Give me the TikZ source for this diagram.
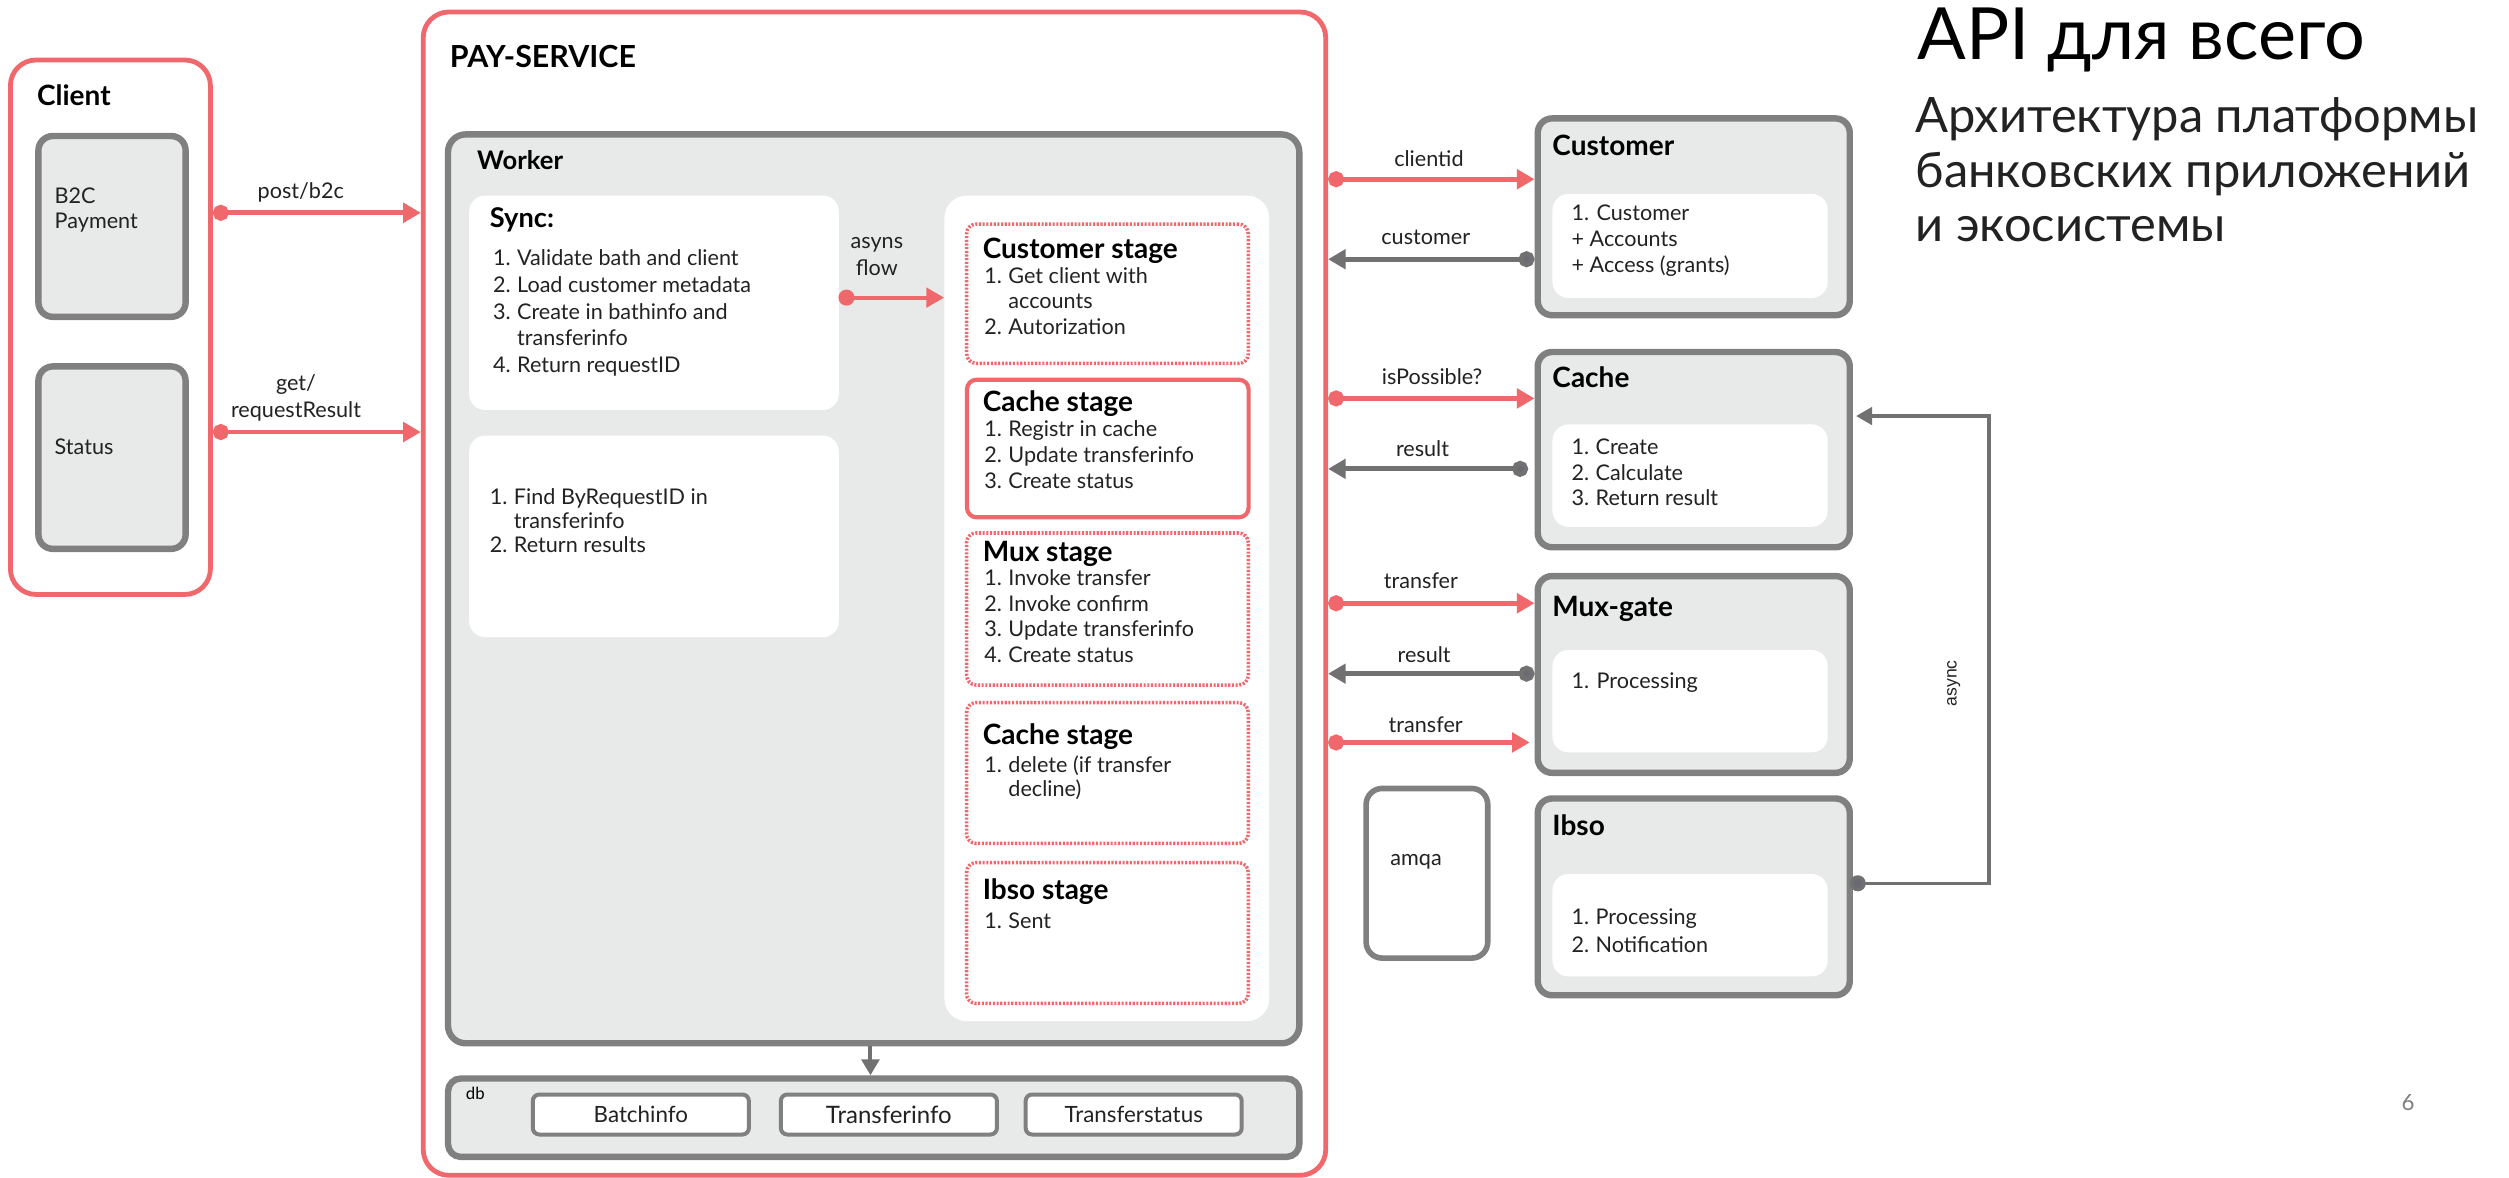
\documentclass[tikz,border=0pt]{standalone}
\usepackage{fontspec}
\setmainfont{Lato}
\newfontfamily\arialf{Liberation Sans}
\usetikzlibrary{arrows.meta,calc}
\definecolor{rd}{HTML}{F0676C}
\definecolor{gb}{HTML}{808080}
\definecolor{gf}{HTML}{E8E9E9}
\definecolor{ga}{HTML}{717171}
\definecolor{gd}{HTML}{6A6A72}
\definecolor{tx}{HTML}{222222}
\newcommand{\fs}[2]{\fontsize{#1}{#2}\selectfont}
\newcommand{\lst}[1]{\begin{tabular}[t]{@{}l@{\hspace{4pt}}l@{}}#1\end{tabular}}
\tikzset{
  sz/.style 2 args={minimum width=#1pt, minimum height=#2pt, inner sep=0pt, anchor=north west},
  redframe/.style={draw=rd, line width=3pt, rounded corners=16pt, fill=white},
  graybox/.style={draw=gb, line width=4pt, rounded corners=9pt, fill=gf},
  whitebox/.style={fill=white, rounded corners=10pt},
  stagedot/.style={draw=rd, line width=2.2pt, dash pattern=on 1.3pt off 1pt, rounded corners=6pt, fill=white},
  stagesolid/.style={draw=rd, line width=2.6pt, rounded corners=6pt, fill=white},
  dbitem/.style={draw=gb, line width=2.5pt, rounded corners=4pt, fill=white, font=\fs{14}{16}, text=tx, minimum width=135pt, minimum height=25pt},
  ttl/.style={anchor=base west, inner sep=0pt, font=\bfseries\fs{17.5}{20}, text=black},
  itm/.style={anchor=base west, inner sep=0pt, font=\fs{13.5}{16}, text=tx},
  lbl/.style={anchor=base, inner sep=0pt, font=\fs{13.5}{17}, text=tx},
  rarr/.style={draw=rd, line width=3pt, {Circle[length=10pt]}-{Triangle[length=11pt,width=12pt]}},
  garr/.style={draw=ga, line width=3pt, {Circle[length=10pt, fill=gd]}-{Triangle[length=11pt,width=12pt]}},
}
\begin{document}
\begin{tikzpicture}[x=1pt,y=-1pt]
\useasboundingbox[fill=white] (0,0) rectangle (1568,736);

% ---------- Client ----------
\node[redframe, sz={125}{334}] (client) at (5,36) {};
\node[ttl] (clientL) at (23,66) {Client};
\node[graybox, sz={92}{113}] (b2c) at (22,83) {};
\node[itm] (b2cL) at (34,127) {\fs{13.5}{16}\lst{B2C\\Payment}};
\node[graybox, sz={92}{114}] (status) at (22,227) {};
\node[itm] (statusL) at (34,284) {Status};

% ---------- PAY-SERVICE ----------
\node[redframe, sz={564}{727}] (ps) at (263,6) {};
\node[ttl, font=\bfseries\fs{19}{22}] (psL) at (281,42) {PAY-SERVICE};

\node[graybox, sz={532}{568}, rounded corners=11pt] (worker) at (278,82) {};
\node[ttl, font=\bfseries\fs{16}{18}] (workerL) at (298,106) {Worker};

\node[whitebox, sz={231}{134}] (sync) at (293,122) {};
\node[ttl, font=\bfseries\fs{17}{20}] (syncL) at (306,142) {Sync:};
\node[itm] (syncT) at (308,166) {\fs{13.5}{16.7}\lst{1. & Validate bath and client\\ 2. & Load customer metadata\\ 3. & Create in bathinfo and\\ & transferinfo\\ 4. & Return requestID}};

\node[whitebox, sz={231}{126}] (find) at (293,272) {};
\node[itm] (findT) at (306,315) {\fs{13.5}{15}\lst{1. & Find ByRequestID in\\ & transferinfo\\ 2. & Return results}};

\node[whitebox, sz={203}{516}, rounded corners=14pt] (stages) at (590,122) {};

\node[stagedot, sz={176}{87}] (st1) at (603,139) {};
\node[ttl] (st1L) at (614,161.5) {Customer stage};
\node[itm] (st1T) at (615,177) {\lst{1. & Get client with\\ & accounts\\ 2. & Autorization}};

\node[stagesolid, sz={176}{86}] (st2) at (603,236) {};
\node[ttl] (st2L) at (614,257) {Cache stage};
\node[itm] (st2T) at (615,273) {\lst{1. & Registr in cache\\ 2. & Update transferinfo\\ 3. & Create status}};

\node[stagedot, sz={176}{95}] (st3) at (603,332) {};
\node[ttl] (st3L) at (614,351) {Mux stage};
\node[itm] (st3T) at (615,366) {\lst{1. & Invoke transfer\\ 2. & Invoke confirm\\ 3. & Update transferinfo\\ 4. & Create status}};

\node[stagedot, sz={176}{88}] (st4) at (603,438) {};
\node[ttl] (st4L) at (614,465) {Cache stage};
\node[itm] (st4T) at (615,483) {\fs{13.5}{15}\lst{1. & delete (if transfer\\ & decline)}};

\node[stagedot, sz={176}{88}] (st5) at (603,538) {};
\node[ttl] (st5L) at (614,562) {Ibso stage};
\node[itm] (st5T) at (615,580) {\lst{1. & Sent}};

\node[lbl, align=center] (asynsL) at (548,172) {asyns\\flow};
\coordinate (asynsS) at (524,186);
\draw[rarr, line width=2.5pt] (asynsS) -- (stages.west |- asynsS);

% ---------- db ----------
\node[graybox, sz={532}{49}, rounded corners=8pt] (db) at (278,672) {};
\node[anchor=base west, inner sep=0pt, font=\fs{10.5}{12}, text=black] (dbL) at (291,687) {db};
\node[dbitem] (bi) at (400.5,696.5) {Batchinfo\hspace{18pt}};
\node[dbitem, font=\fs{15}{17}] (ti) at (555.5,696.5) {Transferinfo\hspace{10pt}};
\node[dbitem] (ts) at (708.5,696.5) {Transferstatus\hspace{20pt}};
\draw[draw=ga, line width=2.5pt, -{Triangle[length=10pt,width=11pt]}] (worker.south -| 544,0) -- (db.north -| 544,0);

% ---------- Client arrows ----------
\coordinate (y1) at (0,133);
\coordinate (y2) at (0,270);
\draw[rarr] (client.east |- y1) -- (ps.west |- y1);
\node[lbl] (postL) at (188,124) {post/b2c};
\draw[rarr] (client.east |- y2) -- (ps.west |- y2);
\node[lbl, align=center] (getL) at (185,261) {get/\\requestResult};

% ---------- Right side services ----------
\node[graybox, sz={195}{123}] (cust) at (959,72) {};
\node[ttl] (custL) at (970,97) {Customer};
\node[whitebox, sz={172}{65}] (custW) at (970,121) {};
\node[itm] (custT) at (982,138) {\lst{1. Customer\\ + Accounts\\ + Access (grants)}};

\node[graybox, sz={195}{122}] (cache) at (959,218) {};
\node[ttl] (cacheL) at (970,242) {Cache};
\node[whitebox, sz={172}{64}] (cacheW) at (970,265) {};
\node[itm] (cacheT) at (982,284) {\lst{1. & Create\\ 2. & Calculate\\ 3. & Return result}};

\node[graybox, sz={195}{123}] (mux) at (959,358) {};
\node[ttl] (muxL) at (970,385) {Mux-gate};
\node[whitebox, sz={172}{64}] (muxW) at (970,406) {};
\node[itm] (muxT) at (982,430) {1. Processing};

\node[graybox, sz={195}{123}] (ibso) at (959,497) {};
\node[ttl] (ibsoL) at (970,522) {Ibso};
\node[whitebox, sz={172}{64}] (ibsoW) at (970,546) {};
\node[itm] (ibsoT) at (982,578) {\fs{13.5}{17}\lst{1. & Processing\\ 2. & Notification}};

\node[draw=gb, line width=3.5pt, rounded corners=10pt, fill=white, sz={76}{106}] (amqa) at (852,491) {};
\node[lbl] (amqaL) at (885,541) {amqa};

% arrows between PAY-SERVICE and services
\coordinate (a1) at (0,112);
\coordinate (a2) at (0,162);
\coordinate (a3) at (0,249);
\coordinate (a4) at (0,293);
\coordinate (a5) at (0,377);
\coordinate (a6) at (0,421);
\coordinate (a7) at (0,464);
\draw[rarr] (ps.east |- a1) -- (cust.west |- a1);
\node[lbl] (l1) at (893,104) {clientid};
\draw[garr] (cust.west |- a2) -- (ps.east |- a2);
\node[lbl] (l2) at (891,153) {customer};
\draw[rarr] (ps.east |- a3) -- (cache.west |- a3);
\node[lbl] (l3) at (895,240) {isPossible?};
\draw[garr] ([xshift=-4pt]cache.west |- a4) -- (ps.east |- a4);
\node[lbl] (l4) at (889,285) {result};
\draw[rarr] (ps.east |- a5) -- (mux.west |- a5);
\node[lbl] (l5) at (888,368) {transfer};
\draw[garr] (mux.west |- a6) -- (ps.east |- a6);
\node[lbl] (l6) at (890,414) {result};
\draw[rarr] (ps.east |- a7) -- ([xshift=-3pt]mux.west |- a7);
\node[lbl] (l7) at (891,458) {transfer};

% async loop
\coordinate (asyncS) at (1156,552);
\coordinate (asyncE) at (1160,260);
\coordinate (asyncX) at (1243,0);
\draw[draw=ga, line width=2pt, {Circle[length=10pt, fill=gd]}-{Triangle[length=10pt,width=11pt]}]
  (asyncS) -- (asyncX |- asyncS) -- (asyncX |- asyncE) -- (asyncE);
\node[rotate=90, inner sep=1pt, font=\arialf\fs{11}{13}, text=tx] (asyncL) at (1221,427) {async};

% ---------- Title ----------
\node[anchor=base west, inner sep=0pt, font=\fs{45}{50}, text=black] (title) at (1198,37) {API для всего};
\node[anchor=base west, inner sep=0pt, font=\fs{30.5}{34}, text=tx] (sub1) at (1197,83) {Архитектура платформы};
\node[anchor=base west, inner sep=0pt, font=\fs{30.5}{34}, text=tx] (sub2) at (1197,117) {банковских приложений};
\node[anchor=base west, inner sep=0pt, font=\fs{30.5}{34}, text=tx] (sub3) at (1197,151) {и экосистемы};
\node[anchor=base, inner sep=0pt, font=\fs{14}{16}, text=gray] (pg) at (1505,694) {6};
\end{tikzpicture}
\end{document}
